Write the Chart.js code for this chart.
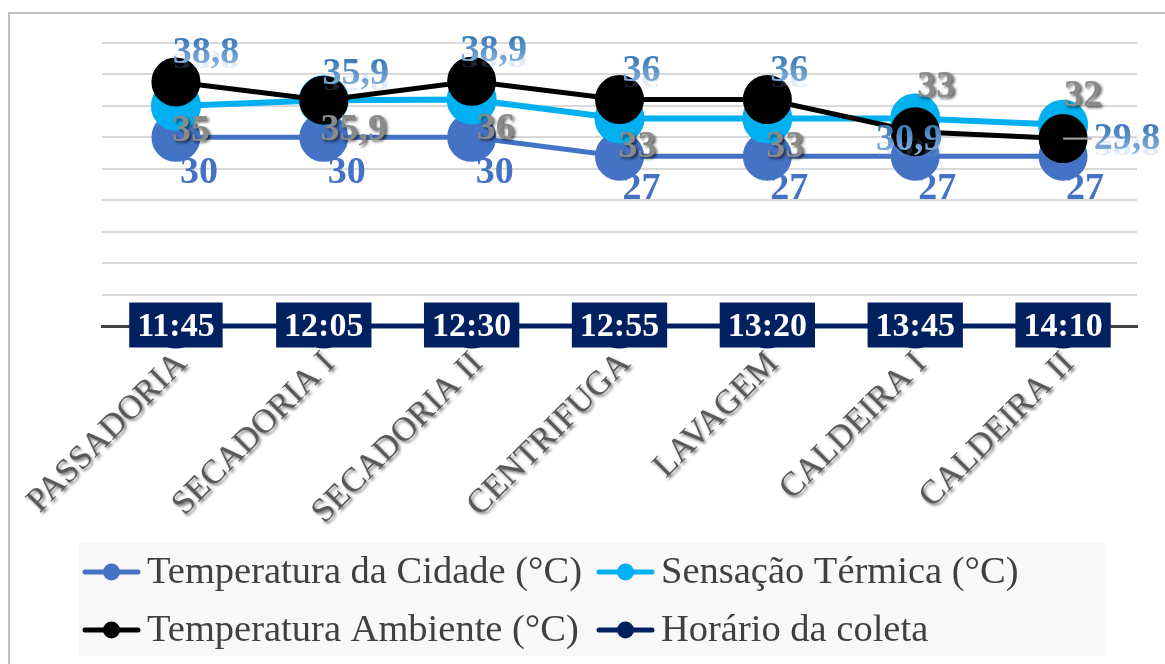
<!DOCTYPE html>
<html lang="pt-BR">
<head>
<meta charset="utf-8">
<title>Temperaturas por setor</title>
<script src="https://cdn.jsdelivr.net/npm/chart.js@4.4.1/dist/chart.umd.min.js"></script>
<style>
  html, body { margin: 0; padding: 0; background: #fff; }
  canvas { display: block; }
</style>
</head>
<body>
<canvas id="grafico" width="1165" height="664"></canvas>
<script>
(function () {
  'use strict';

  // setores visitados, na ordem da coleta
  var setores = ['PASSADORIA', 'SECADORIA I', 'SECADORIA II', 'CENTRIFUGA', 'LAVAGEM', 'CALDEIRA I', 'CALDEIRA II'];
  var horarios = ['11:45', '12:05', '12:30', '12:55', '13:20', '13:45', '14:10'];

  var tempCidade = [30, 30, 30, 27, 27, 27, 27];
  var sensacao = [35, 35.9, 36, 33, 33, 33, 32];
  var tempAmbiente = [38.8, 35.9, 38.9, 36, 36, 30.9, 29.8];
  var horarioValores = [0, 0, 0, 0, 0, 0, 0];

  var yTicks = { min: 0, max: 45, step: 5 };

  var SERIF = '"Liberation Serif", "Times New Roman", serif';
  var AZUL = '#4472C4', CIANO = '#00B0F0', PRETO = '#000000', MARINHO = '#002060';

  // deslocamento do rótulo em relação ao ponto (centro do texto)
  var posRotulos = {
    cidade: [[23, 36], [23, 36], [23, 36], [22, 33], [22, 33], [22, 33], [22, 33]],
    sensacao: [[15, 25], [30, 30], [24, 30], [18, 29], [18, 29], [21, -31], [20, -29]],
    ambiente: [[30, -29], [32, -26], [22, -30], [22, -28], [22, -28], [-6, 9], [64, 1]]
  };

  function fmt(v) { return String(v).replace('.', ','); }

  function serie(label, data, cor, largura, ordem, raio) {
    return {
      label: label, data: data,
      borderColor: cor, backgroundColor: cor,
      pointBackgroundColor: cor, pointBorderColor: cor,
      borderWidth: largura, pointRadius: raio, pointHoverRadius: raio,
      tension: 0, order: ordem, clip: false
    };
  }

  var dsCidade = serie('Temperatura da Cidade (°C)', tempCidade, AZUL, 5, 3, 22);
  var dsSensacao = serie('Sensação Térmica (°C)', sensacao, CIANO, 6, 2, 22);
  var dsAmbiente = serie('Temperatura Ambiente (°C)', tempAmbiente, PRETO, 5, 1, 22);
  var dsHorario = serie('Horário da coleta', horarioValores, MARINHO, 5, 4, 20);
  dsCidade.rotulo = 'cidade';
  dsSensacao.rotulo = 'sensacao';
  dsAmbiente.rotulo = 'ambiente';
  dsHorario.rotulo = 'horario';

  // moldura cinza do gráfico e sombra nos nomes dos setores
  var moldura = {
    id: 'moldura',
    beforeDraw: function (chart) {
      var ctx = chart.ctx;
      ctx.save();
      ctx.fillStyle = '#fff';
      ctx.fillRect(0, 0, chart.width, chart.height);
      ctx.strokeStyle = '#BFBFBF';
      ctx.lineWidth = 2;
      ctx.beginPath();
      ctx.moveTo(9, chart.height);
      ctx.lineTo(9, 13);
      ctx.lineTo(chart.width, 13);
      ctx.stroke();
      ctx.restore();

      var sx = chart.scales.x;
      if (!sx._comSombra) {
        var orig = sx.drawLabels;
        sx.drawLabels = function (area) {
          var c = this.ctx;
          c.save();
          c.shadowColor = 'rgba(0,0,0,0.55)';
          c.shadowOffsetX = 2;
          c.shadowOffsetY = 2;
          c.shadowBlur = 3;
          orig.call(this, area);
          c.restore();
        };
        sx._comSombra = true;
      }
    }
  };

  function textoAmbiente(ctx, txt, x, y) {
    var m = 13;
    var g = ctx.createLinearGradient(0, y - m, 0, y + m);
    g.addColorStop(0, '#3E7CBA');
    g.addColorStop(1, '#86B3DF');
    ctx.fillStyle = g;
    ctx.fillText(txt, x, y);
    // reflexo esmaecido logo abaixo do texto
    ctx.save();
    ctx.globalAlpha = 0.22;
    ctx.translate(0, y + m + 1);
    ctx.scale(1, -0.55);
    ctx.fillStyle = '#7FAAD6';
    ctx.fillText(txt, x, m);
    ctx.restore();
  }

  var rotulos = {
    id: 'rotulos',
    afterDatasetsDraw: function (chart) {
      var ctx = chart.ctx;
      ctx.save();
      ctx.textAlign = 'center';
      ctx.textBaseline = 'middle';

      chart.data.datasets.forEach(function (ds, i) {
        var pontos = chart.getDatasetMeta(i).data;
        if (ds.rotulo === 'horario') return;
        ctx.font = 'bold 38px ' + SERIF;
        pontos.forEach(function (p, j) {
          var off = posRotulos[ds.rotulo][j];
          var x = p.x + off[0], y = p.y + off[1];
          var txt = fmt(ds.data[j]);
          if (ds.rotulo === 'cidade') {
            ctx.fillStyle = AZUL;
            ctx.fillText(txt, x, y);
          } else if (ds.rotulo === 'sensacao') {
            ctx.save();
            ctx.shadowColor = 'rgba(0,0,0,0.6)';
            ctx.shadowOffsetX = 2;
            ctx.shadowOffsetY = 2;
            ctx.shadowBlur = 3;
            ctx.fillStyle = '#8A8A8A';
            ctx.fillText(txt, x, y);
            ctx.restore();
          } else {
            if (off[0] > 50) {
              // linha de chamada até o rótulo afastado
              ctx.save();
              ctx.strokeStyle = '#A6A6A6';
              ctx.lineWidth = 2;
              ctx.beginPath();
              ctx.moveTo(p.x, p.y);
              ctx.lineTo(x - ctx.measureText(txt).width / 2 - 2, p.y);
              ctx.stroke();
              ctx.restore();
            }
            textoAmbiente(ctx, txt, x, y);
          }
        });
      });

      // horários em caixas azul-marinho sobre a linha de base
      var iH = chart.data.datasets.indexOf(dsHorario);
      ctx.font = 'bold 34px ' + SERIF;
      chart.getDatasetMeta(iH).data.forEach(function (p, j) {
        var w = ctx.measureText(horarios[j]).width + 16, h = 45;
        ctx.fillStyle = MARINHO;
        ctx.fillRect(p.x - w / 2, p.y - 1 - h / 2, w, h);
        ctx.fillStyle = '#fff';
        ctx.fillText(horarios[j], p.x, p.y + 1);
      });
      ctx.restore();
    }
  };

  // legenda em duas colunas sobre fundo cinza-claro
  var legenda = {
    id: 'legenda',
    afterDraw: function (chart) {
      var ctx = chart.ctx;
      var itens = [dsCidade, dsSensacao, dsAmbiente, dsHorario];
      var colunas = [85, 599], linhas = [572, 630];
      ctx.save();
      ctx.fillStyle = '#F8F8F8';
      ctx.fillRect(79, 543, 1027, 113);
      ctx.font = '38.5px ' + SERIF;
      ctx.textBaseline = 'middle';
      ctx.textAlign = 'left';
      itens.forEach(function (ds, k) {
        var x = colunas[k % 2], y = linhas[Math.floor(k / 2)];
        ctx.strokeStyle = ds.borderColor;
        ctx.lineWidth = 5;
        ctx.lineCap = 'round';
        ctx.beginPath();
        ctx.moveTo(x, y);
        ctx.lineTo(x + 53, y);
        ctx.stroke();
        ctx.fillStyle = ds.borderColor;
        ctx.beginPath();
        ctx.arc(x + 26.5, y, 8.5, 0, Math.PI * 2);
        ctx.fill();
        ctx.fillStyle = '#404040';
        ctx.fillText(ds.label, x + 62, y + 1);
      });
      ctx.restore();
    }
  };

  new Chart(document.getElementById('grafico').getContext('2d'), {
    type: 'line',
    data: {
      labels: setores,
      datasets: [dsAmbiente, dsSensacao, dsCidade, dsHorario]
    },
    plugins: [moldura, rotulos, legenda],
    options: {
      responsive: false,
      devicePixelRatio: 1,
      animation: false,
      layout: { padding: { top: 43, right: 18, left: 0, bottom: 0 } },
      plugins: { legend: { display: false }, tooltip: { enabled: false } },
      scales: {
        x: {
          type: 'category',
          offset: true,
          grid: { display: false, drawTicks: false },
          border: { display: true, color: '#404040', width: 3 },
          ticks: {
            autoSkip: false,
            maxRotation: 45,
            minRotation: 45,
            padding: 18,
            labelOffset: 6,
            color: '#595959',
            font: { family: SERIF, size: 34 }
          },
          afterFit: function (s) { s.height = 338; }
        },
        y: {
          min: yTicks.min,
          max: yTicks.max,
          grid: { color: '#D9D9D9', lineWidth: 2, drawTicks: false },
          border: { display: false },
          ticks: { display: false, stepSize: yTicks.step },
          afterFit: function (s) { s.width = 102; }
        }
      }
    }
  });
})();
</script>
</body>
</html>
